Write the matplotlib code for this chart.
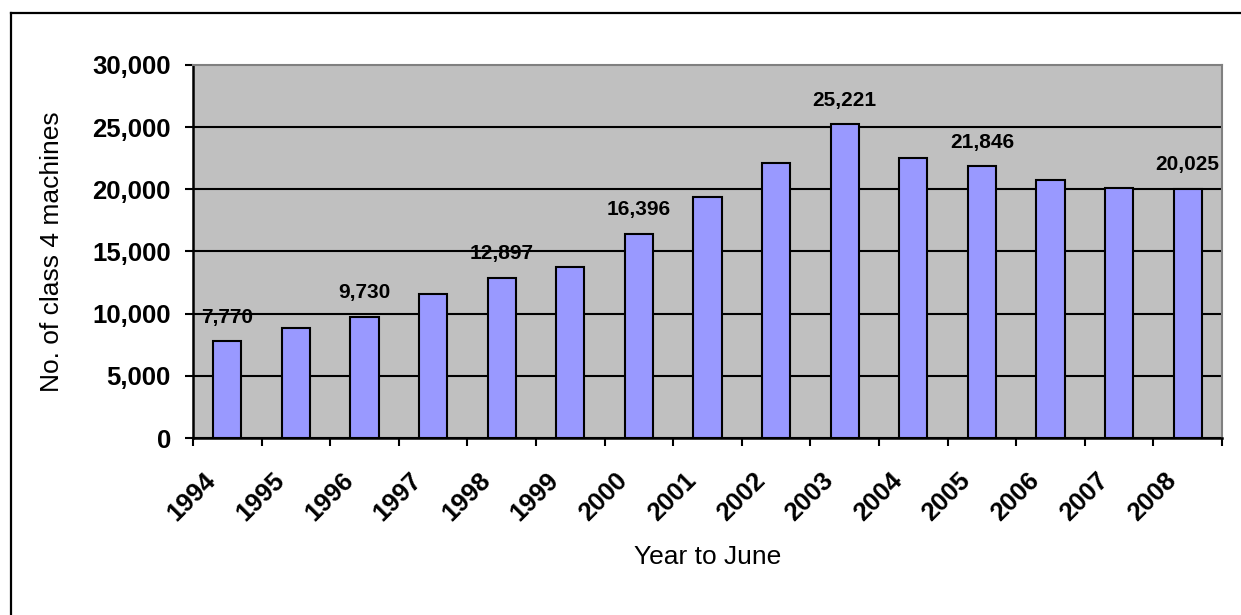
import matplotlib
matplotlib.use("Agg")
import matplotlib.pyplot as plt
from matplotlib.lines import Line2D
from matplotlib.transforms import ScaledTranslation
from matplotlib.ticker import FuncFormatter
import numpy as np

years = ["1994", "1995", "1996", "1997", "1998", "1999", "2000", "2001",
         "2002", "2003", "2004", "2005", "2006", "2007", "2008"]
machines = [7770, 8820, 9730, 11590, 12897, 13790, 16396, 19350,
            22120, 25221, 22500, 21846, 20720, 20100, 20025]
# only some bars carry a value label
labelled = ["1994", "1996", "1998", "2000", "2003", "2005", "2008"]
y_ticks = [0, 5000, 10000, 15000, 20000, 25000, 30000]

plt.rcParams['font.family'] = ['Liberation Sans', 'DejaVu Sans']

fig = plt.figure(figsize=(12.41, 6.15), dpi=100)
ax = fig.add_axes([193 / 1241, 1 - 438 / 615, 1029 / 1241, 373 / 615])

# outer border of the chart area (left and top edges)
bx, by = 10.5 / 1241, 1 - 12.5 / 615
fig.lines.append(Line2D([bx, bx], [0, by], transform=fig.transFigure,
                        color='black', linewidth=1.6))
fig.lines.append(Line2D([bx, 1], [by, by], transform=fig.transFigure,
                        color='black', linewidth=1.6))

x = np.arange(len(years))
ax.set_facecolor('#C0C0C0')
bars = ax.bar(x, machines, width=0.41, color='#9999FF', edgecolor='black',
              linewidth=1.5, zorder=3)

ax.set_xlim(-0.5, len(years) - 0.5)
ax.set_ylim(0, 30000)
ax.set_yticks(y_ticks)
ax.yaxis.set_major_formatter(FuncFormatter(lambda v, p: f"{int(v):,}"))
ax.yaxis.grid(True, color='black', linewidth=1.5, zorder=1)
ax.set_axisbelow(True)
ax.yaxis.get_gridlines()[-1].set_visible(False)

# ticks sit between categories, labels at the centres
ax.set_xticks(np.arange(len(years) + 1) - 0.5)
ax.set_xticklabels([])
ax.set_xticks(x, minor=True)
ax.set_xticklabels(years, minor=True, rotation=45, ha='right', va='center',
                   rotation_mode='anchor', fontsize=18.5, fontweight='bold')
ax.tick_params(axis='x', which='major', length=6, width=1.5, direction='out')
ax.tick_params(axis='x', which='minor', length=0, pad=28)
for lab in ax.get_xticklabels(minor=True):
    lab.set_transform(lab.get_transform() + ScaledTranslation(-0.15, 0, fig.dpi_scale_trans))
ax.tick_params(axis='y', length=6, width=1.5, direction='out', pad=10,
               labelsize=18.5)
for lab in ax.get_yticklabels():
    lab.set_fontweight('bold')

for side in ['left', 'bottom']:
    ax.spines[side].set_color('black')
    ax.spines[side].set_linewidth(1.8)
for side in ['top', 'right']:
    ax.spines[side].set_color('#808080')
    ax.spines[side].set_linewidth(1.5)

for xi, yr, val in zip(x, years, machines):
    if yr in labelled:
        ax.annotate(f"{val:,}", (xi, val), xytext=(0, 17.5),
                    textcoords='offset points', ha='center', va='center',
                    fontsize=15, fontweight='bold', zorder=4)

ax.set_ylabel("No. of class 4 machines", fontsize=19)
ax.yaxis.set_label_coords(-0.1254, 0.5)
ax.set_xlabel("Year to June", fontsize=19, va='center')
ax.xaxis.set_label_coords(0.5, -0.318)

fig.savefig("out.png", dpi=100)
